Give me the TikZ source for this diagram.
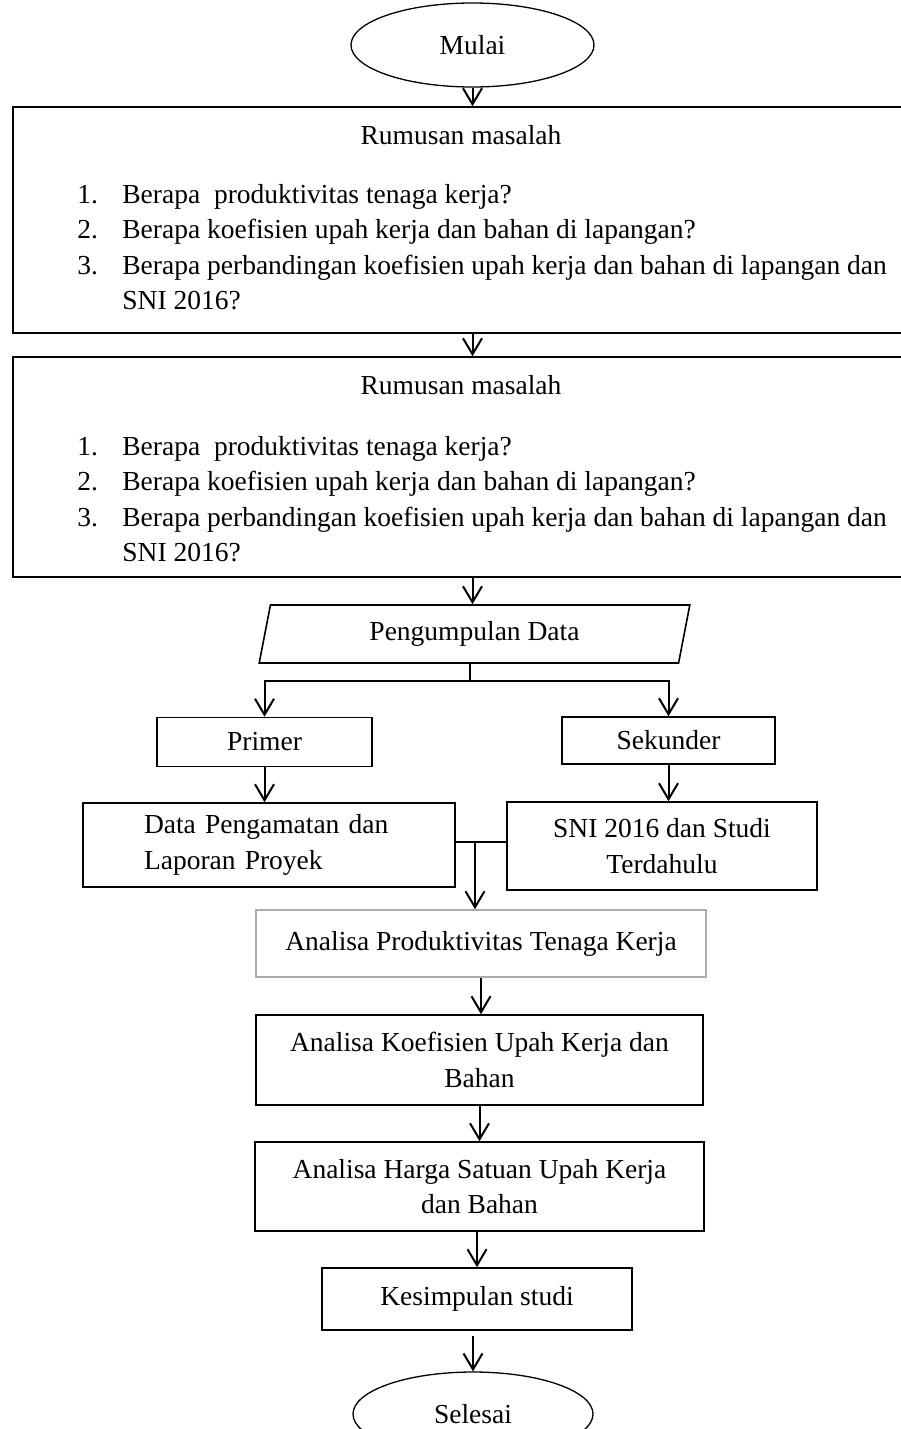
\documentclass[tikz,border=0pt]{standalone}
\usepackage{fontspec}
\setmainfont{Liberation Serif}
\usepackage{tikz}
\usetikzlibrary{positioning, arrows.meta, calc, shapes.geometric}
\tikzset{
  every node/.style={font=\fontsize{13.75}{17.75}\selectfont},
  arr/.style={-{Straight Barb[length=8pt, width=9.5pt]}, line width=1pt},
  ln/.style={line width=1.1pt},
  box/.style={draw, line width=0.8pt, inner sep=0pt, align=center},
  boxGray/.style={box, draw=gray!65},
  term/.style={draw, ellipse, line width=0.65pt, minimum width=121.5pt, minimum height=42pt, inner sep=0pt},
  io/.style={draw, trapezium, trapezium left angle=77, trapezium right angle=103,
             trapezium stretches=true, line width=0.8pt, minimum width=215.5pt,
             minimum height=29pt, inner sep=0pt},
  listtxt/.style={anchor=north west, align=left, inner sep=0pt},
}
\newcommand{\rmitems}{%
  \makebox[22.5pt][l]{1.}Berapa\ \ produktivitas tenaga kerja?\\
  \makebox[22.5pt][l]{2.}Berapa koefisien upah kerja dan bahan di lapangan?\\
  \makebox[22.5pt][l]{3.}Berapa perbandingan koefisien upah kerja dan bahan di lapangan dan\\
  \hspace*{22.5pt}SNI 2016?}

\begin{document}
\begin{tikzpicture}[x=0.5pt, y=-0.5pt]
  \useasboundingbox (0,0) rectangle (900,1429);
  % start and the two problem boxes
  \node[term] (mulai) at (472.5,45) {Mulai};
  \node[box, minimum width=458.5pt, minimum height=113pt] (rm1) at (471.5,220) {};
  \node (rm1title) at (461,135) {Rumusan masalah};
  \node[listtxt] (rm1list) at (77,184) {\rmitems};
  \node[box, minimum width=458.5pt, minimum height=110pt] (rm2) at (471.5,467) {};
  \node (rm2title) at (461,385) {Rumusan masalah};
  \node[listtxt] (rm2list) at (77,436) {\rmitems};
  % data collection
  \node[io] (pd) at (474.5,634) {Pengumpulan Data};
  \node[box, minimum width=107.5pt, minimum height=24.5pt] (prim) at (264.5,742) {Primer};
  \node[box, minimum width=106.5pt, minimum height=23.5pt] (sek) at (668.5,740.5) {Sekunder};
  \node[box, align=left, text width=125pt, inner xsep=30.5pt, minimum height=42pt] (data) at (269,845)
    {Data Pengamatan dan\\Laporan Proyek};
  \node[box, minimum width=155pt, minimum height=44pt] (sni) at (662,846)
    {SNI 2016 dan Studi\\Terdahulu};
  % analysis chain
  \node[boxGray, minimum width=225pt, minimum height=33.5pt] (prod) at (481,943.5)
    {Analisa Produktivitas Tenaga Kerja};
  \node[box, minimum width=223.5pt, minimum height=45pt] (koef) at (479.5,1060)
    {Analisa Koefisien Upah Kerja dan\\Bahan};
  \node[box, minimum width=224.5pt, minimum height=44.5pt] (harga) at (479.5,1186.5)
    {Analisa Harga Satuan Upah Kerja\\dan Bahan};
  \node[box, minimum width=155pt, minimum height=31pt] (kes) at (477,1299) {Kesimpulan studi};
  \node[term, minimum width=120pt] (sel) at (473,1414) {Selesai};
  % connectors
  \coordinate (split) at (470,681);
  \coordinate (join) at (475,842);
  \draw[arr] (mulai.south) -- (mulai.south |- rm1.north);
  \draw[arr] (rm1.south -| mulai) -- (rm2.north -| mulai);
  \draw[arr] (rm2.south -| mulai) -- (pd.north -| mulai);
  \draw[ln] (pd.south -| split) -- (split);
  \draw[arr] (split) -| (prim.north);
  \draw[arr] (split) -| (sek.north);
  \draw[arr] (prim.south) -- (prim.south |- data.north);
  \draw[arr] (sek.south) -- (sek.south |- sni.north);
  \draw[ln] (data.east |- join) -- (sni.west |- join);
  \draw[arr] (join) -- (join |- prod.north);
  \draw[arr] (prod.south) -- (prod.south |- koef.north);
  \draw[arr] (koef.south) -- (koef.south |- harga.north);
  \draw[arr] (harga.south -| kes) -- (kes.north);
  \draw[arr, shorten <=2.5pt] (kes.south -| sel) -- (sel.north);
\end{tikzpicture}
\end{document}
